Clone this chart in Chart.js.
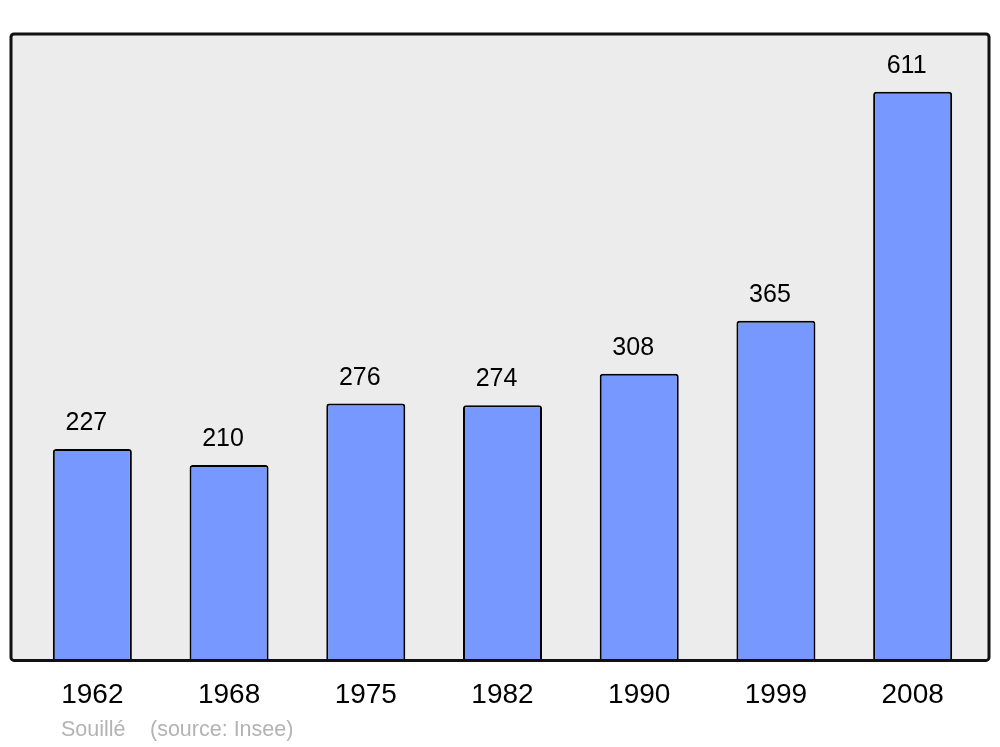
<!DOCTYPE html>
<html>
<head>
<meta charset="utf-8">
<script src="https://cdn.jsdelivr.net/npm/chart.js@4/dist/chart.umd.min.js"></script>
<style>
  html, body { margin: 0; padding: 0; background: #fff; }
  #wrap { width: 1000px; height: 747px; }
</style>
</head>
<body>
<div id="wrap"><canvas id="popChart" width="1000" height="747"></canvas></div>
<script>
// Population de Souillé par recensement
const annees = ['1962', '1968', '1975', '1982', '1990', '1999', '2008'];
const population = [227, 210, 276, 274, 308, 365, 611];
const commune = 'Souillé';
const source = '(source: Insee)';

const fondCadre = '#ececec';
const couleurBarre = '#7799ff';
const police = '"Liberation Sans", Arial, sans-serif';

// cadre gris arrondi derrière les barres
const cadre = {
    id: 'cadre',
    beforeDatasetsDraw(chart) {
        const { ctx, chartArea } = chart;
        const x1 = 11, x2 = 989, y1 = chartArea.top, y2 = chartArea.bottom;
        ctx.save();
        ctx.beginPath();
        ctx.roundRect(x1, y1, x2 - x1, y2 - y1, 3);
        ctx.fillStyle = fondCadre;
        ctx.fill();
        ctx.restore();
    },
    afterDatasetsDraw(chart) {
        const { ctx, chartArea } = chart;
        const x1 = 11, x2 = 989, y1 = chartArea.top, y2 = chartArea.bottom;
        ctx.save();
        ctx.beginPath();
        ctx.roundRect(x1, y1, x2 - x1, y2 - y1, 3);
        ctx.lineWidth = 3;
        ctx.strokeStyle = '#111';
        ctx.stroke();

        // valeurs au-dessus des barres
        const meta = chart.getDatasetMeta(0);
        ctx.font = '25px ' + police;
        ctx.fillStyle = '#000';
        ctx.textAlign = 'center';
        ctx.textBaseline = 'alphabetic';
        meta.data.forEach((bar, i) => {
            ctx.fillText(String(population[i]), bar.x - 6, bar.y - 19);
        });

        // pied de page
        ctx.font = '21.5px ' + police;
        ctx.fillStyle = '#b3b3b3';
        ctx.textAlign = 'left';
        ctx.textBaseline = 'middle';
        ctx.fillText(commune, 61, 730);
        ctx.fillText(source, 150, 730);
        ctx.restore();
    }
};

const ctx = document.getElementById('popChart').getContext('2d');

new Chart(ctx, {
    type: 'bar',
    data: {
        labels: annees,
        datasets: [{
            data: population,
            backgroundColor: couleurBarre,
            borderColor: '#000',
            borderWidth: 2,
            borderSkipped: 'bottom',
            borderRadius: { topLeft: 3, topRight: 3, bottomLeft: 0, bottomRight: 0 },
            categoryPercentage: 1,
            barPercentage: 0.578
        }]
    },
    options: {
        responsive: false,
        animation: false,
        layout: {
            padding: { top: 34, left: 24, right: 19, bottom: 17 }
        },
        scales: {
            x: {
                grid: { display: false, drawTicks: false },
                border: { display: false },
                ticks: {
                    color: '#000',
                    padding: 18,
                    font: { family: police, size: 28 }
                }
            },
            y: {
                display: false,
                min: 0,
                max: 673
            }
        },
        plugins: {
            legend: { display: false },
            tooltip: { enabled: false }
        }
    },
    plugins: [cadre]
});
</script>
</body>
</html>
